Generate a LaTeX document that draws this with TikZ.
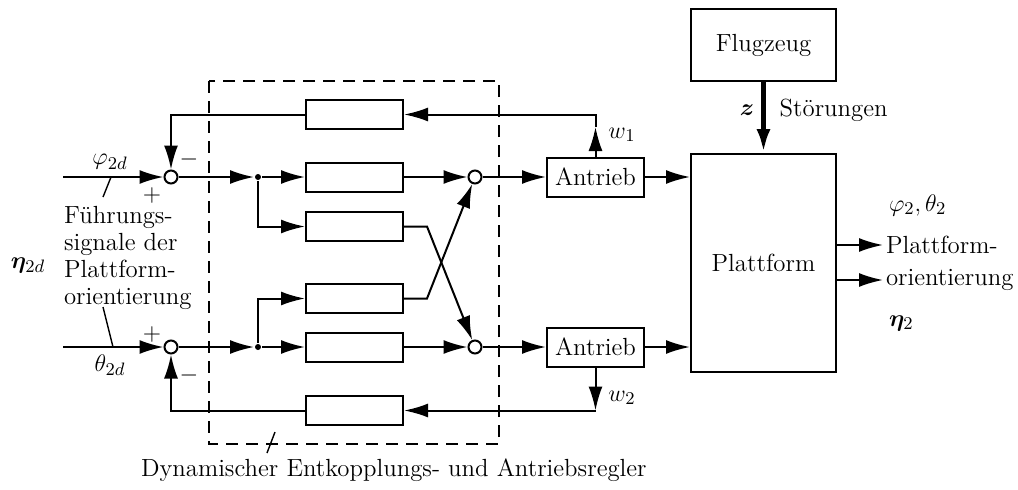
\documentclass[tikz,border=0pt]{standalone}
\usepackage{bm}
\usetikzlibrary{arrows.meta}
\begin{document}
\begin{tikzpicture}[x=0.5pt,y=-0.5pt,
  every node/.style={font=\fontsize{12.4}{13.6}\selectfont},
  line width=1pt,
  arr/.style={-{Latex[length=12pt,width=7pt]}},
  blk/.style={draw,rectangle,inner sep=0pt,minimum width=48.5pt,minimum height=14.5pt},
  drv/.style={draw,rectangle,inner sep=0pt,minimum width=48.5pt,minimum height=19.5pt},
  sumc/.style={draw,circle,fill=white,inner sep=0pt,minimum size=6.5pt},
  jdot/.style={fill,circle,inner sep=0pt,minimum size=3pt},
  sgn/.style={inner sep=0pt}]
\useasboundingbox (0,0) rectangle (1018,489);

% controller frame
\draw[dash pattern=on 6pt off 4pt] (209,81) rectangle (499,444);

% summing points at the inputs
\node[sumc] (s1) at (171,177) {};
\node[sumc] (s2) at (171,347) {};
% branch points
\node[jdot] (b1) at (258,177) {};
\node[jdot] (b2) at (258,347) {};
% controller blocks
\node[blk] (fb1) at (354.5,114.5) {};
\node[blk] (r1)  at (354.5,177) {};
\node[blk] (r2)  at (354.5,226.5) {};
\node[blk] (r3)  at (354.5,298.5) {};
\node[blk] (r4)  at (354.5,347) {};
\node[blk] (fb2) at (354.5,410.5) {};
% summing points at the outputs
\node[sumc] (t1) at (475,177) {};
\node[sumc] (t2) at (475,347) {};
% drives, aircraft, platform
\node[drv] (a1) at (595.5,177) {Antrieb};
\node[drv] (a2) at (595.5,347) {Antrieb};
\node[draw,rectangle,inner sep=0pt,minimum width=72.5pt,minimum height=36pt] (fz) at (763.5,45) {Flugzeug};
\node[draw,rectangle,inner sep=0pt,minimum width=72.5pt,minimum height=109pt] (pf) at (763.5,263) {Plattform};

% reference inputs
\coordinate (in1) at (63,177);
\coordinate (in2) at (63,347);
\draw[arr] (in1) -- (s1);
\draw[arr] (in2) -- (s2);
\node at (110,162) {$\varphi_{2d}$};
\node at (110,365) {$\theta_{2d}$};
\node[sgn] at (152,195) {$+$};
\node[sgn] at (189,159) {$-$};
\node[sgn] at (152,334) {$+$};
\node[sgn] at (189,375) {$-$};
\coordinate (l1a) at (103,197);
\coordinate (l1b) at (111,177);
\coordinate (l2a) at (103,307);
\coordinate (l2b) at (113,347);
\draw[line width=0.7pt] (l1a) -- (l1b);
\draw[line width=0.7pt] (l2a) -- (l2b);
\node[anchor=west,align=left,inner sep=0pt] (ftxt) at (63,258) {Führungs-\\signale der\\Plattform-\\orientierung};
\node (eta2d) at (28,265) {$\bm{\eta}_{2d}$};

% forward paths
\draw[arr] (s1) -- (b1);
\draw[arr] (s2) -- (b2);
\draw[arr] (b1) -- (r1);
\draw[arr] (b2) -- (r4);
\draw[arr] (b1) |- (r2);
\draw[arr] (b2) |- (r3);
\draw[arr] (r1) -- (t1);
\draw[arr] (r4) -- (t2);
\coordinate (k2) at (427,226.5);
\coordinate (k3) at (427,298.5);
\draw[arr] (r2.east) -- (k2) -- (t2);
\draw[arr] (r3.east) -- (k3) -- (t1);
\draw[arr] (t1) -- (a1);
\draw[arr] (t2) -- (a2);
\draw[arr] (a1) -- (a1 -| pf.west);
\draw[arr] (a2) -- (a2 -| pf.west);

% feedback paths
\coordinate (w1t) at (595.5,127);
\coordinate (w2t) at (595.5,410.5);
\draw[arr] (a1.north) -- (w1t);
\draw[arr] (w1t) |- (fb1.east);
\draw[arr] (fb1.west) -| (s1);
\draw[arr] (a2.south) -- (w2t);
\draw[arr] (w2t) -- (fb2.east);
\draw[arr] (fb2.west) -| (s2);
\node at (622,135) {$w_1$};
\node at (622,398) {$w_2$};

% disturbance
\draw[-{Latex[length=12pt,width=7pt]},line width=2.5pt] (fz) -- (pf);
\node at (747,110) {$\bm{z}$};
\node[anchor=west] at (772,110) {Störungen};

% outputs
\coordinate (o1) at (883,245);
\coordinate (o2) at (883,280);
\draw[arr] (o1 -| pf.east) -- (o1);
\draw[arr] (o2 -| pf.east) -- (o2);
\node[anchor=west,inner sep=1pt] at (o1) {Plattform-};
\node[anchor=west,inner sep=1pt] at (o2) {orientierung};
\node[anchor=west,inner sep=1pt] at (886,205) {$\varphi_2,\theta_2$};
\node[anchor=west,inner sep=1pt] at (886,323) {$\bm{\eta}_2$};

% controller label
\coordinate (l3a) at (267,453);
\coordinate (l3b) at (275,432);
\draw[line width=0.7pt] (l3a) -- (l3b);
\node[anchor=west,inner sep=0pt] (ctl) at (140,470) {Dynamischer Entkopplungs- und Antriebsregler};
\end{tikzpicture}
\end{document}
